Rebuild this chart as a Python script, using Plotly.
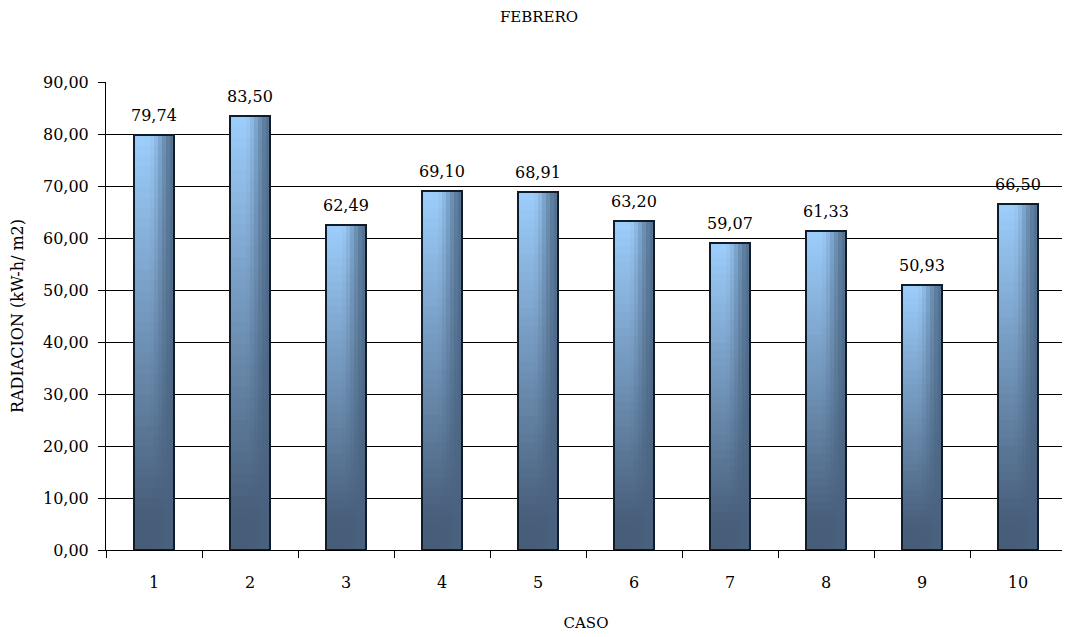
import plotly.graph_objects as go

# ---- data ----
casos = ["1", "2", "3", "4", "5", "6", "7", "8", "9", "10"]
radiacion = [79.74, 83.50, 62.49, 69.10, 68.91, 63.20, 59.07, 61.33, 50.93, 66.50]
titulo = "FEBRERO"
eje_x = "CASO"
eje_y = "RADIACION (kW-h/ m2)"

FONT = "DejaVu Serif"
N_V = 40   # vertical gradient slices
N_H = 10   # horizontal gradient slices
BAR_W = 0.41

bottom = (71, 93, 121)
top_light = (157, 206, 252)
dark = (72, 98, 127)


def lerp(a, b, t):
    return tuple(a[k] + (b[k] - a[k]) * t for k in range(3))


def smooth(e0, e1, x):
    t = min(max((x - e0) / (e1 - e0), 0), 1)
    return t * t * (3 - 2 * t)


def color(u, v):
    vv = max(0.0, (v - 0.08) / 0.92)
    c = lerp(bottom, top_light, vv)
    h = smooth(0.35, 1.0, u)
    c = lerp(c, dark, h * 0.85)
    return "rgb(%d,%d,%d)" % tuple(int(round(x)) for x in c)


fig = go.Figure()
for j in range(N_H):
    u = (j + 0.5) / N_H
    for i in range(N_V):
        v = (i + 0.5) / N_V
        fig.add_trace(go.Bar(
            x=casos,
            y=[val / N_V for val in radiacion],
            offsetgroup=str(j),
            marker=dict(color=color(u, v), line=dict(width=0)),
            hoverinfo="skip",
            showlegend=False,
        ))

# outline on overlay axis
fig.add_trace(go.Bar(
    x=casos,
    y=radiacion,
    xaxis="x2",
    width=BAR_W,
    marker=dict(color="rgba(0,0,0,0)", line=dict(color="#111c2b", width=1.8)),
    hoverinfo="skip",
    showlegend=False,
))

# value labels (category axis -> use category index)
annotations = []
for idx, val in enumerate(radiacion):
    annotations.append(dict(
        x=idx, y=val, xref="x", yref="y",
        text=f"{val:.2f}".replace(".", ","),
        showarrow=False, yanchor="bottom", yshift=8,
        font=dict(family=FONT, size=16, color="black"),
    ))

fig.update_layout(
    width=1062, height=629,
    barmode="stack",
    bargap=1 - BAR_W,
    bargroupgap=0,
    separators=",.",
    paper_bgcolor="white",
    plot_bgcolor="white",
    margin=dict(l=98, r=4, t=74, b=87, autoexpand=False),
    font=dict(family=FONT, size=16, color="black"),
    title=dict(text=titulo, x=0.5, xanchor="center", y=0.986, yanchor="middle",
               font=dict(family=FONT, size=15, color="black")),
    xaxis=dict(
        type="category",
        categoryorder="array", categoryarray=casos,
        range=[-0.5, 9.5],
        automargin=False,
        showline=True, linecolor="black", linewidth=1,
        ticks="outside", ticklen=7, tickcolor="black",
        tickson="boundaries",
        ticklabelstandoff=18,
        showgrid=False,
        title=dict(text=eje_x, font=dict(family=FONT, size=15), standoff=26),
        tickfont=dict(family=FONT, size=16),
    ),
    xaxis2=dict(
        type="category", overlaying="x",
        categoryorder="array", categoryarray=casos,
        range=[-0.5, 9.5], visible=False,
    ),
    yaxis=dict(
        range=[0, 90], dtick=10, tickformat=".2f",
        automargin=False,
        showline=True, linecolor="black", linewidth=1,
        ticks="outside", ticklen=7, tickcolor="black",
        ticklabelstandoff=6,
        showgrid=True, gridcolor="black", gridwidth=1,
        zeroline=False,
        title=dict(text=eje_y, font=dict(family=FONT, size=16), standoff=18),
        tickfont=dict(family=FONT, size=16),
    ),
    annotations=annotations,
    shapes=[dict(type="line", xref="paper", yref="paper", x0=1, x1=1, y0=0, y1=1,
                 line=dict(color="#9a9a9a", width=1))],
)

fig.write_html("out.html")
